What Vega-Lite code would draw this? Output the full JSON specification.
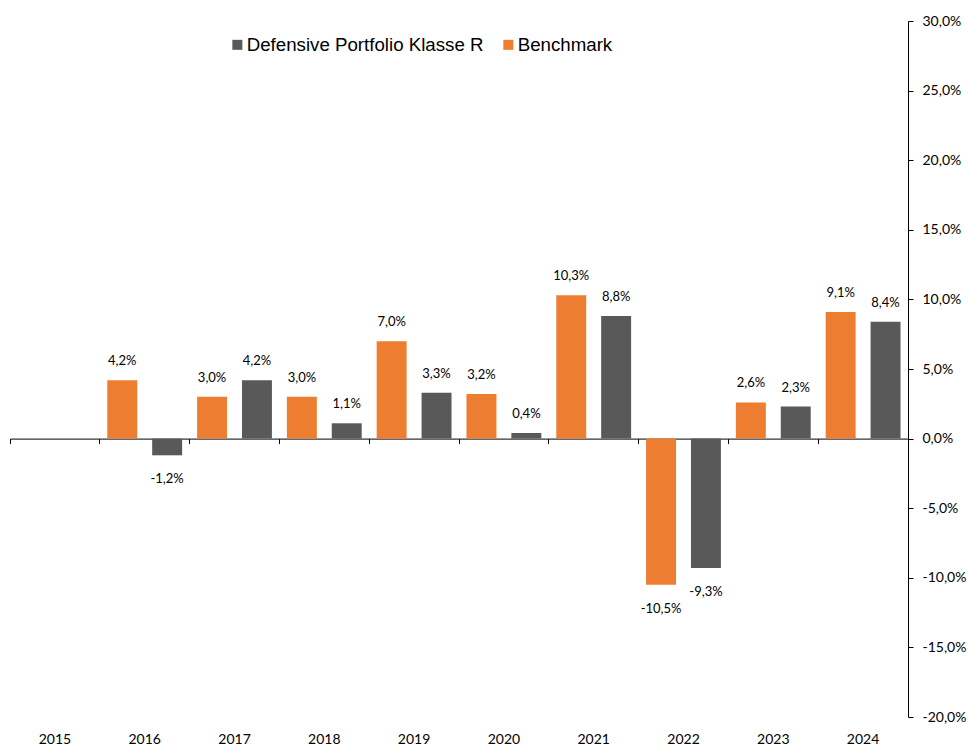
{
  "$schema": "https://vega.github.io/schema/vega-lite/v6.json",
  "width": 898,
  "height": 696,
  "autosize": {"type": "none"},
  "padding": {"left": 10, "top": 21, "right": 60, "bottom": 29},
  "background": "white",
  "config": {
    "view": {"stroke": null},
    "locale": {"number": {"decimal": ",", "thousands": ".", "grouping": [3], "currency": ["", " €"], "minus": "-"}}
  },
  "data": {
    "values": [
      {"year": "2016", "series": "Benchmark", "value": 0.042},
      {"year": "2016", "series": "Defensive Portfolio Klasse R", "value": -0.012},
      {"year": "2017", "series": "Benchmark", "value": 0.030},
      {"year": "2017", "series": "Defensive Portfolio Klasse R", "value": 0.042},
      {"year": "2018", "series": "Benchmark", "value": 0.030},
      {"year": "2018", "series": "Defensive Portfolio Klasse R", "value": 0.011},
      {"year": "2019", "series": "Benchmark", "value": 0.070},
      {"year": "2019", "series": "Defensive Portfolio Klasse R", "value": 0.033},
      {"year": "2020", "series": "Benchmark", "value": 0.032},
      {"year": "2020", "series": "Defensive Portfolio Klasse R", "value": 0.004},
      {"year": "2021", "series": "Benchmark", "value": 0.103},
      {"year": "2021", "series": "Defensive Portfolio Klasse R", "value": 0.088},
      {"year": "2022", "series": "Benchmark", "value": -0.105},
      {"year": "2022", "series": "Defensive Portfolio Klasse R", "value": -0.093},
      {"year": "2023", "series": "Benchmark", "value": 0.026},
      {"year": "2023", "series": "Defensive Portfolio Klasse R", "value": 0.023},
      {"year": "2024", "series": "Benchmark", "value": 0.091},
      {"year": "2024", "series": "Defensive Portfolio Klasse R", "value": 0.084}
    ]
  },
  "encoding": {
    "x": {
      "field": "year", "type": "nominal",
      "scale": {"domain": ["2015","2016","2017","2018","2019","2020","2021","2022","2023","2024"], "paddingInner": 0, "paddingOuter": 0}
    },
    "xOffset": {
      "field": "series", "type": "nominal",
      "scale": {"domain": ["Benchmark", "Defensive Portfolio Klasse R"], "paddingInner": 0.333, "paddingOuter": 0.1667}
    },
    "y": {
      "field": "value", "type": "quantitative",
      "scale": {"domain": [-0.2, 0.3], "nice": false, "zero": false},
      "axis": {
        "orient": "right", "title": null, "grid": false,
        "values": [-0.2, -0.15, -0.1, -0.05, 0, 0.05, 0.1, 0.15, 0.2, 0.25, 0.3],
        "format": ".1%",
        "domainColor": "#000", "domainWidth": 1,
        "tickColor": "#000", "tickSize": 5,
        "labelPadding": 9,
        "labelFont": "Lato", "labelFontSize": 14, "labelColor": "#000"
      }
    }
  },
  "layer": [
    {
      "mark": {"type": "bar"},
      "encoding": {
        "x": {
          "field": "year", "type": "nominal",
          "axis": {
            "orient": "bottom", "title": null, "domain": false, "ticks": false, "tickSize": 0,
            "labelAngle": 0, "labelPadding": 15,
            "labelFont": "Lato", "labelFontSize": 14, "labelColor": "#000"
          }
        },
        "color": {
          "field": "series", "type": "nominal",
          "scale": {"domain": ["Defensive Portfolio Klasse R", "Benchmark"], "range": ["#595959", "#ED7D31"]},
          "legend": {
            "title": null, "orient": "none", "direction": "horizontal",
            "legendX": 218, "legendY": 14,
            "symbolType": "square", "symbolSize": 100, "symbolStrokeWidth": 0,
            "labelFont": "Liberation Sans", "labelFontSize": 18.7, "labelColor": "#000",
            "labelOffset": 0, "columnPadding": 15, "labelLimit": 400
          }
        }
      }
    },
    {
      "transform": [{"filter": "datum.value >= 0"}],
      "mark": {"type": "text", "baseline": "middle", "dy": -19, "font": "Lato", "fontSize": 13, "color": "#000"},
      "encoding": {
        "x": {
          "field": "year", "type": "nominal",
          "axis": {
            "orient": "bottom", "title": null, "labels": false,
            "domain": true, "domainColor": "#000", "domainWidth": 1,
            "ticks": true, "tickColor": "#000", "tickSize": 5, "tickWidth": 1,
            "bandPosition": 0, "offset": -278.4
          }
        },
        "text": {"field": "value", "type": "quantitative", "format": ".1%"}
      }
    },
    {
      "transform": [{"filter": "datum.value < 0"}],
      "mark": {"type": "text", "baseline": "middle", "dy": 24, "font": "Lato", "fontSize": 13, "color": "#000"},
      "encoding": {
        "x": {"field": "year", "type": "nominal", "axis": null},
        "text": {"field": "value", "type": "quantitative", "format": ".1%"}
      }
    }
  ],
  "resolve": {"axis": {"x": "independent"}}
}
